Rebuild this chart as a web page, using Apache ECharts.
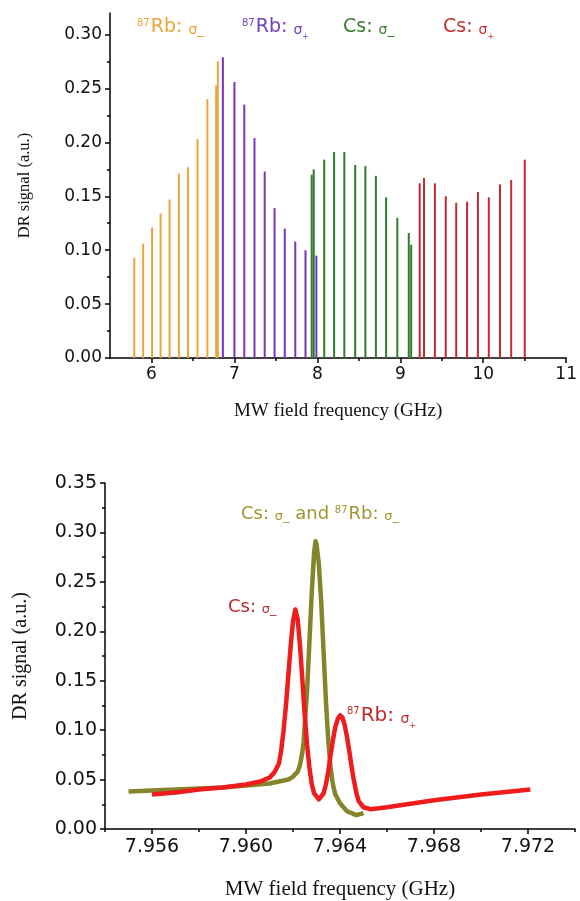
<!DOCTYPE html>
<html>
<head>
<meta charset="utf-8">
<script src="https://cdn.jsdelivr.net/npm/echarts@6/dist/echarts.min.js"></script>
<style>html,body{margin:0;padding:0;background:#fff}#c{width:580px;height:901px}</style>
</head>
<body>
<div id="c"></div>
<script>
// ---- Top panel data: [frequency GHz, DR signal] ----
var rbMinus = [[5.793,0.093],[5.900,0.106],[6.007,0.121],[6.110,0.134],[6.218,0.147],[6.330,0.171],[6.440,0.177],[6.555,0.203],[6.674,0.240],[6.780,0.253],[6.800,0.275]];
var rbPlus = [[6.861,0.279],[7.000,0.256],[7.119,0.235],[7.242,0.204],[7.365,0.173],[7.484,0.139],[7.607,0.120],[7.734,0.108],[7.857,0.100],[7.988,0.095]];
var csMinus = [[7.932,0.170],[7.956,0.175],[8.083,0.184],[8.202,0.191],[8.325,0.191],[8.456,0.179],[8.579,0.178],[8.706,0.169],[8.829,0.149],[8.964,0.130],[9.102,0.116],[9.131,0.105]];
var csPlus = [[9.234,0.162],[9.286,0.167],[9.417,0.162],[9.548,0.150],[9.674,0.144],[9.805,0.145],[9.936,0.154],[10.067,0.149],[10.202,0.161],[10.337,0.165],[10.500,0.184]];
var topXTicks = [6,7,8,9,10,11];
var topXMinor = [6.5,7.5,8.5,9.5,10.5];
var topYTicks = [0,0.05,0.10,0.15,0.20,0.25,0.30];
var topYMinor = [0.025,0.075,0.125,0.175,0.225,0.275];

// ---- Bottom panel data ----
var olive = [[7.9550,0.038],[7.9570,0.040],[7.9590,0.042],[7.9610,0.046],[7.9618,0.050],[7.9620,0.053],[7.9622,0.058],[7.9623,0.065],[7.9624,0.078],[7.96245,0.088],[7.9625,0.105],[7.9626,0.140],[7.9627,0.190],[7.9628,0.240],[7.9629,0.280],[7.96296,0.291],[7.9630,0.288],[7.9631,0.268],[7.9632,0.230],[7.9633,0.180],[7.9634,0.130],[7.9635,0.090],[7.9636,0.062],[7.9637,0.045],[7.9638,0.035],[7.9640,0.026],[7.9643,0.018],[7.9647,0.014],[7.9650,0.016]];
var red = [[7.9560,0.035],[7.9570,0.037],[7.9580,0.040],[7.9590,0.042],[7.9600,0.045],[7.9606,0.048],[7.9610,0.052],[7.9612,0.057],[7.9614,0.066],[7.9615,0.080],[7.9616,0.100],[7.9617,0.125],[7.9618,0.155],[7.9619,0.185],[7.9620,0.210],[7.9621,0.222],[7.9622,0.212],[7.9623,0.185],[7.9624,0.150],[7.9625,0.115],[7.9626,0.085],[7.9627,0.062],[7.9628,0.045],[7.9629,0.036],[7.9631,0.030],[7.9633,0.036],[7.9634,0.045],[7.9635,0.058],[7.9636,0.075],[7.9637,0.090],[7.9638,0.103],[7.9639,0.111],[7.9640,0.115],[7.9641,0.113],[7.9642,0.105],[7.9643,0.093],[7.9644,0.078],[7.9645,0.062],[7.9646,0.048],[7.9647,0.036],[7.9648,0.028],[7.9650,0.022],[7.9653,0.020],[7.9660,0.022],[7.9680,0.029],[7.9700,0.035],[7.9721,0.040]];
var botXTicks = [7.956,7.960,7.964,7.968,7.972];
var botXMinor = [7.954,7.958,7.962,7.966,7.970,7.974];
var botYTicks = [0,0.05,0.10,0.15,0.20,0.25,0.30,0.35];
var botYMinor = [0.025,0.075,0.125,0.175,0.225,0.275,0.325];

var chart = echarts.init(document.getElementById('c'), null, {renderer:'canvas'});
var sans = 'DejaVu Sans, sans-serif';
var serif = 'Liberation Serif, Times New Roman, serif';
var lineStyle = {color:'#000', width:1.5};

function barSeries(data, color){
  return {type:'bar', xAxisIndex:0, yAxisIndex:0, data:data, barWidth:2, barGap:'-100%',
    itemStyle:{color:color}, silent:true, animation:false};
}
function lbl(c, main, sig, sub, subSmall){
  return {
    s:{fontSize:10, fill:c, verticalAlign:'top', fontFamily:sans, padding:[0,1,0,0]},
    m:{fontSize:main, fontFamily:sans, fill:c, verticalAlign:'bottom'},
    g:{fontSize:sig, fontFamily:sans, fill:c, verticalAlign:'bottom'},
    b:subSmall ? {fontSize:8, fontFamily:sans, fill:c, verticalAlign:'bottom', padding:[0,0,-4,0]}
               : {fontSize:sub, fontFamily:sans, fill:c, verticalAlign:'bottom'}
  };
}

chart.setOption({
  animation:false,
  backgroundColor:'#fff',
  grid:[
    {left:110, top:13, width:461, height:345},
    {left:105, top:483, width:470, height:350}
  ],
  xAxis:[
    {type:'value', gridIndex:0, min:5.5, max:11,
     axisLine:{lineStyle:lineStyle}, splitLine:{show:false},
     axisTick:{customValues:topXTicks, length:5, lineStyle:lineStyle},
     axisLabel:{customValues:topXTicks, fontSize:17, color:'#111', fontFamily:sans, margin:8},
     name:'MW field frequency (GHz)', nameLocation:'middle', nameGap:44,
     nameTextStyle:{fontFamily:serif, fontSize:19, color:'#111'}},
    {type:'value', gridIndex:0, min:5.5, max:11,
     axisLine:{show:false}, splitLine:{show:false}, axisLabel:{show:false},
     axisTick:{customValues:topXMinor, inside:true, length:3, lineStyle:lineStyle}},
    {type:'value', gridIndex:1, min:7.954, max:7.974,
     axisLine:{lineStyle:lineStyle}, splitLine:{show:false},
     axisTick:{customValues:botXTicks, length:5, lineStyle:lineStyle},
     axisLabel:{customValues:botXTicks, fontSize:19, color:'#111', fontFamily:sans, margin:9,
       formatter:function(v){return v.toFixed(3);}},
     name:'MW field frequency (GHz)', nameLocation:'middle', nameGap:50,
     nameTextStyle:{fontFamily:serif, fontSize:21, color:'#111'}},
    {type:'value', gridIndex:1, min:7.954, max:7.974,
     axisLine:{show:false}, splitLine:{show:false}, axisLabel:{show:false},
     axisTick:{customValues:botXMinor, inside:true, length:3, lineStyle:lineStyle}}
  ],
  yAxis:[
    {type:'value', gridIndex:0, min:0, max:0.32, position:'left',
     axisLine:{show:true, lineStyle:lineStyle}, splitLine:{show:false},
     axisTick:{show:true, customValues:topYTicks, length:5, lineStyle:lineStyle},
     axisLabel:{customValues:topYTicks, fontSize:17, color:'#111', fontFamily:sans, margin:8,
       formatter:function(v){return v.toFixed(2);}},
     name:'DR signal (a.u.)', nameLocation:'middle', nameGap:77, nameRotate:90,
     nameTextStyle:{fontFamily:serif, fontSize:16.5, color:'#111'}},
    {type:'value', gridIndex:0, min:0, max:0.32, position:'left', offset:0,
     axisLine:{show:false}, splitLine:{show:false}, axisLabel:{show:false},
     axisTick:{show:true, customValues:topYMinor, length:3, lineStyle:lineStyle}},
    {type:'value', gridIndex:1, min:0, max:0.35, position:'left',
     axisLine:{show:true, lineStyle:lineStyle}, splitLine:{show:false},
     axisTick:{show:true, customValues:botYTicks, length:5, lineStyle:lineStyle},
     axisLabel:{customValues:botYTicks, fontSize:19, color:'#111', fontFamily:sans, margin:8,
       formatter:function(v){return v.toFixed(2);}},
     name:'DR signal (a.u.)', nameLocation:'middle', nameGap:74, nameRotate:90,
     nameTextStyle:{fontFamily:serif, fontSize:20, color:'#111'}},
    {type:'value', gridIndex:1, min:0, max:0.35, position:'left', offset:0,
     axisLine:{show:false}, splitLine:{show:false}, axisLabel:{show:false},
     axisTick:{show:true, customValues:botYMinor, length:3, lineStyle:lineStyle}}
  ],
  series:[
    barSeries(rbMinus, '#eca43a'),
    barSeries(rbPlus, '#7a34b8'),
    barSeries(csMinus, '#2f7d2c'),
    barSeries(csPlus, '#c62a2c'),
    {type:'line', xAxisIndex:2, yAxisIndex:2, data:olive, showSymbol:false, smooth:false,
     lineStyle:{color:'#84842a', width:4.5, join:'round'}, silent:true},
    {type:'line', xAxisIndex:2, yAxisIndex:2, data:red, showSymbol:false, smooth:false,
     lineStyle:{color:'#ee1c1c', width:4.5, join:'round'}, silent:true}
  ],
  graphic:[
    {type:'text', left:137, top:18, style:{text:'{s|87}{m|Rb: }{g|σ}{b|_}', rich:lbl('#eaa43c',19,14,14,false)}},
    {type:'text', left:242, top:18, style:{text:'{s|87}{m|Rb: }{g|σ}{b|+}', rich:lbl('#7440b4',19,14,14,true)}},
    {type:'text', left:343, top:18, style:{text:'{m|Cs: }{g|σ}{b|_}', rich:lbl('#3a7a30',19,14,14,false)}},
    {type:'text', left:443, top:18, style:{text:'{m|Cs: }{g|σ}{b|+}', rich:lbl('#c0302e',19,14,14,true)}},
    {type:'text', left:241, top:505, style:{text:'{m|Cs: }{g|σ}{b|_}{m| and }{s|87}{m|Rb: }{g|σ}{b|_}', rich:lbl('#a09632',18,13,13,false)}},
    {type:'text', left:228, top:598, style:{text:'{m|Cs: }{g|σ}{b|_}', rich:lbl('#b8282c',18,13,13,false)}},
    {type:'text', left:347, top:706, style:{text:'{s|87}{m|Rb: }{g|σ}{b|+}', rich:lbl('#c02a2c',20,14,14,true)}}
  ]
});
</script>
</body>
</html>
